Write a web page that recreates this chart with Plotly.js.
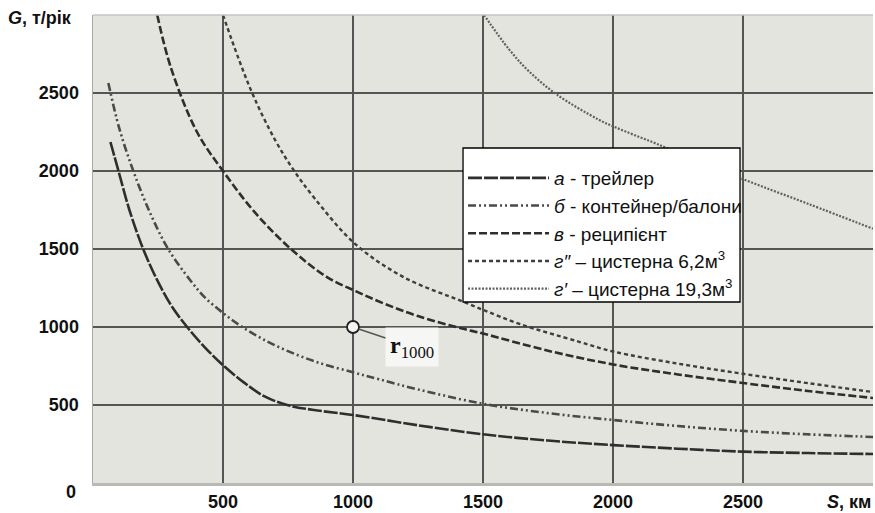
<!DOCTYPE html>
<html>
<head>
<meta charset="utf-8">
<script src="https://cdn.plot.ly/plotly-3.0.1.min.js"></script>
<style>html,body{margin:0;padding:0;background:#fff;}#chart{width:875px;height:513px;}</style>
</head>
<body>
<div id="chart"></div>
<script>
// Distance S, km and annual capacity G, t/year for each transport mode
const sA = [67, 98, 140, 193, 247, 300, 362, 430, 500, 580, 660, 750, 850, 1000, 1250, 1500, 1750, 2000, 2250, 2500, 2750, 3000];
const gA = [2186, 2000, 1750, 1500, 1300, 1140, 1000, 870, 755, 645, 555, 498, 468, 436, 370, 312, 272, 243, 220, 201, 192, 186];

const sB = [59, 100, 155, 220, 289, 374, 430, 500, 565, 650, 750, 870, 1000, 1100, 1250, 1500, 1750, 2000, 2250, 2500, 2750, 3000];
const gB = [2564, 2280, 2000, 1730, 1500, 1300, 1190, 1090, 1010, 925, 845, 770, 710, 665, 600, 508, 448, 404, 365, 334, 312, 295];

const sV = [247, 300, 400, 500, 620, 757, 900, 1010, 1120, 1250, 1420, 1500, 1750, 2000, 2250, 2500, 2750, 3000];
const gV = [3000, 2660, 2250, 2000, 1740, 1506, 1320, 1230, 1150, 1070, 990, 958, 848, 760, 696, 641, 590, 545];

const sG2 = [500, 560, 620, 700, 770, 850, 1010, 1200, 1420, 1500, 1640, 1870, 2000, 2250, 2500, 2750, 3000];
const gG2 = [3000, 2720, 2470, 2200, 2010, 1830, 1530, 1315, 1165, 1110, 1020, 905, 843, 765, 700, 640, 583];

const sG1 = [1504, 1600, 1676, 1784, 1944, 2009, 2174, 2481, 2750, 3000];
const gG1 = [3000, 2780, 2640, 2490, 2330, 2280, 2170, 1960, 1790, 1630];

const seriesNames = [
  '<i>а</i> - трейлер',
  '<i>б</i> - контейнер/балони',
  '<i>в</i> - реципієнт',
  '<i>г″</i> – цистерна 6,2м<sup>3</sup>',
  '<i>г′</i> – цистерна 19,3м<sup>3</sup>'
];

const pointS = [1000];
const pointG = [1000];
const pointLabel = '<b>r</b><sub>1000</sub>';

const xTicks = [500, 1000, 1500, 2000, 2500];
const yTicks = [500, 1000, 1500, 2000, 2500];

const styles = [
  {color: '#2e2e2e', width: 2.6, dash: '14px,2px'},
  {color: '#4a4a4a', width: 2.6, dash: '8px,3px,2px,3px,2px,3px'},
  {color: '#2e2e2e', width: 2.6, dash: '8px,3px'},
  {color: '#3e3e3e', width: 2.4, dash: '4px,3px'},
  {color: '#606060', width: 2.2, dash: '2px,1.5px'}
];
const xs = [sA, sB, sV, sG2, sG1];
const ys = [gA, gB, gV, gG2, gG1];

const traces = xs.map((x, i) => ({
  x: x, y: ys[i], type: 'scatter', mode: 'lines', name: seriesNames[i],
  legendgroup: 'g' + i,
  line: Object.assign({shape: 'spline', smoothing: 1}, styles[i]),
  hoverinfo: 'skip'
}));
traces.push({
  x: pointS, y: pointG, type: 'scatter', mode: 'markers', showlegend: false,
  marker: {size: 12, color: '#f4f4f2', line: {color: '#222', width: 1.8}},
  hoverinfo: 'skip'
});

const font = 'Liberation Sans, Arial, sans-serif';
const layout = {
  width: 875, height: 513,
  margin: {l: 93, r: 2, t: 15, b: 30},
  paper_bgcolor: '#ffffff',
  plot_bgcolor: '#e4e4de',
  showlegend: true,
  xaxis: {
    range: [0, 3000], tickvals: xTicks, ticktext: xTicks.map(String),
    showgrid: true, gridcolor: '#555', gridwidth: 1.5, zeroline: false,
    showline: true, linecolor: '#b8b8b4', linewidth: 3,
    ticks: '', ticklabelstandoff: 0,
    tickfont: {family: font, size: 18, color: '#111', weight: 'bold'}
  },
  yaxis: {
    range: [0, 3000], tickvals: yTicks, ticktext: yTicks.map(String),
    showgrid: true, gridcolor: '#555', gridwidth: 1.5, zeroline: false,
    showline: true, linecolor: '#a8a8a4', linewidth: 1.5,
    ticks: '', ticklabelstandoff: 9,
    tickfont: {family: font, size: 18, color: '#111', weight: 'bold'}
  },
  legend: {
    x: 0.4744, y: 0.6923, xanchor: 'left', yanchor: 'top',
    bgcolor: 'rgba(0,0,0,0)', borderwidth: 0,
    font: {family: font, size: 19, color: '#111'},
    itemwidth: 81, tracegroupgap: 0, traceorder: 'grouped'
  },
  shapes: [
    {type: 'line', xref: 'paper', yref: 'paper', x0: 0, x1: 1, y0: 1, y1: 1,
     line: {color: '#c4c4c0', width: 1.5}},
    {type: 'rect', xref: 'paper', yref: 'paper', layer: 'above',
     x0: 0.4744, x1: 0.8295, y0: 0.3868, y1: 0.7158,
     fillcolor: '#ffffff', line: {color: '#000', width: 1.3}}
  ],
  annotations: [
    {x: pointS[0], y: pointG[0], xref: 'x', yref: 'y', text: pointLabel,
     showarrow: true, ax: 59, ay: 20, arrowhead: 0, arrowwidth: 1.5, arrowcolor: '#555',
     standoff: 6, bgcolor: '#f6f6f4', borderpad: 4,
     font: {family: 'Liberation Serif, DejaVu Serif, serif', size: 24, color: '#111'}},
    {x: -0.019, y: -0.019, xref: 'paper', yref: 'paper', xanchor: 'right', yanchor: 'middle',
     text: '0', showarrow: false, font: {family: font, size: 18, color: '#111', weight: 'bold'}},
    {x: -0.111, y: 0.9936, xref: 'paper', yref: 'paper', xanchor: 'left', yanchor: 'middle',
     text: '<i>G</i>, т/рік', showarrow: false, font: {family: font, size: 18, color: '#111', weight: 'bold'}},
    {x: 1.0, y: -0.04, xref: 'paper', yref: 'paper', xanchor: 'right', yanchor: 'middle',
     text: '<i>S</i>, км', showarrow: false, font: {family: font, size: 18, color: '#111', weight: 'bold'}}
  ]
};

Plotly.newPlot('chart', traces, layout, {displayModeBar: false, staticPlot: true});
</script>
</body>
</html>
